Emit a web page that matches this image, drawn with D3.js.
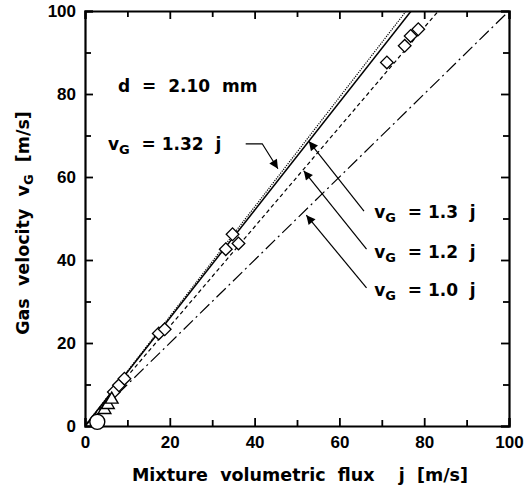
<!DOCTYPE html>
<html>
<head>
<meta charset="utf-8">
<script src="https://cdn.jsdelivr.net/npm/d3@7"></script>
<style>
  body { margin: 0; background: #fff; }
  svg { font-family: "DejaVu Sans", "Liberation Sans", Arial, sans-serif; font-weight: bold; }
  text { white-space: pre; }
</style>
</head>
<body>
<div id="chart"></div>
<script>
(function () {

    // reference lines v_G = k j
    const fitSlopes = [1.32, 1.3, 1.2, 1.0]
    const fitDash = ["1.2,1.2", null, "4,3", "13,4,2,4"]

    // measured points (j, v_G)
    const diamonds = [
        [6.8, 8.2], [8.0, 9.8], [9.3, 11.4], [17.4, 22.3], [18.8, 23.3],
        [33.2, 42.6], [34.8, 46.2], [36.2, 44.0],
        [71.2, 87.6], [75.4, 91.6], [76.8, 94.0], [78.6, 95.6]
    ]
    const triangles = [[4.6, 3.9], [5.4, 5.1], [6.3, 6.4]]
    const circles = [[2.9, 1.0]]

    // text annotations
    const labels = [
        { j: 7.8, v: 80.6, pre: "d  =  2.10  mm" },
        { j: 5.4, v: 66.5, pre: "v", sub: "G", post: "  = 1.32  j" },
        { j: 68.2, v: 50.1, pre: "v", sub: "G", post: "  = 1.3  j" },
        { j: 68.2, v: 40.5, pre: "v", sub: "G", post: "  = 1.2  j" },
        { j: 68.2, v: 31.4, pre: "v", sub: "G", post: "  = 1.0  j" }
    ]
    // arrows: list of points, last one is the head
    const arrows = [
        [[37.9, 68.0], [41.8, 68.0], [45.5, 62.0]],
        [[65.8, 51.8], [52.8, 68.6]],
        [[66.4, 42.6], [51.6, 61.5]],
        [[66.4, 33.3], [52.2, 50.8]]
    ]

    const axisTicks = [0, 20, 40, 60, 80, 100]

    const width = 529, height = 494
    const svg = d3.select("#chart").append("svg")
        .attr("width", width).attr("height", height)

    const x = d3.scaleLinear().domain([0, 100]).range([85, 509])
    const y = d3.scaleLinear().domain([0, 100]).range([426, 11])

    svg.append("defs").append("clipPath").attr("id", "plot")
        .append("rect").attr("x", 85).attr("y", 11).attr("width", 424).attr("height", 415)

    svg.append("defs").append("marker")
        .attr("id", "head").attr("viewBox", "0 0 10 10")
        .attr("refX", 10).attr("refY", 5)
        .attr("markerWidth", 14).attr("markerHeight", 9)
        .attr("markerUnits", "userSpaceOnUse")
        .attr("orient", "auto")
        .append("path").attr("d", "M0,0L10,5L0,10Z").attr("fill", "#000")

    // fit lines
    svg.append("g").attr("clip-path", "url(#plot)")
        .selectAll("line").data(fitSlopes).enter().append("line")
        .attr("x1", x(0)).attr("y1", y(0))
        .attr("x2", k => x(Math.min(100, 100 / k)))
        .attr("y2", k => y(Math.min(100, 100 / k) * k))
        .attr("stroke", "#000")
        .attr("stroke-width", (k, i) => i == 1 ? 1.5 : 1.2)
        .attr("stroke-dasharray", (k, i) => fitDash[i])

    // axes with inward ticks
    const minor = d3.range(10, 100, 20)
    const drawAxis = (axisFn, tx, ty, pad) => {
        const scale = axisFn === d3.axisLeft || axisFn === d3.axisRight ? y : x
        const g = svg.append("g").attr("transform", `translate(${tx},${ty})`)
        g.call(axisFn(scale)
            .tickValues(axisTicks).tickSize(-8).tickPadding(pad || 0)
            .tickFormat(pad ? d3.format("d") : ""))
        g.append("g").call(axisFn(scale)
            .tickValues(minor).tickSize(-6).tickFormat(""))
        g.selectAll("path").attr("stroke-width", 2.2)
        g.selectAll("line").attr("stroke-width", 1.8)
        g.selectAll("text").attr("font-size", 17).attr("font-family", null).attr("fill", "#000")
        g.selectAll(".domain").filter((d, i, n) => n[i].parentNode !== g.node()).remove()
        return g
    }
    drawAxis(d3.axisBottom, 0, 426, 10)
    drawAxis(d3.axisLeft, 85, 0, 9)
    drawAxis(d3.axisTop, 0, 11, 0)
    drawAxis(d3.axisRight, 509, 0, 0)

    // markers
    const sq = d3.symbol().type(d3.symbolSquare).size(80)
    svg.append("g").selectAll("path").data(diamonds).enter().append("path")
        .attr("d", sq)
        .attr("transform", d => `translate(${x(d[0])},${y(d[1])}) rotate(45)`)
        .attr("fill", "#fff").attr("stroke", "#000").attr("stroke-width", 1.3)

    const tri = d3.symbol().type(d3.symbolTriangle).size(70)
    svg.append("g").selectAll("path").data(triangles).enter().append("path")
        .attr("d", tri)
        .attr("transform", d => `translate(${x(d[0])},${y(d[1])})`)
        .attr("fill", "#fff").attr("stroke", "#000").attr("stroke-width", 1.4)

    svg.append("g").selectAll("circle").data(circles).enter().append("circle")
        .attr("cx", d => x(d[0])).attr("cy", d => y(d[1])).attr("r", 7.5)
        .attr("fill", "#fff").attr("stroke", "#000").attr("stroke-width", 1.4)

    // annotations
    const t = svg.append("g").selectAll("text").data(labels).enter().append("text")
        .attr("x", d => x(d.j)).attr("y", d => y(d.v))
        .attr("font-size", 17)
    t.append("tspan").text(d => d.pre)
    t.filter(d => d.sub).append("tspan").attr("font-size", 13).attr("dy", 4).text(d => d.sub)
    t.filter(d => d.post).append("tspan").attr("dy", -4).text(d => d.post)

    svg.append("g").selectAll("path").data(arrows).enter().append("path")
        .attr("d", d => d3.line().x(p => x(p[0])).y(p => y(p[1]))(d))
        .attr("fill", "none").attr("stroke", "#000").attr("stroke-width", 1.2)
        .attr("marker-end", "url(#head)")

    // axis titles
    svg.append("text")
        .attr("x", 300).attr("y", 481).attr("text-anchor", "middle")
        .attr("font-size", 17.5)
        .text("Mixture  volumetric  flux    j  [m/s]")

    const yt = svg.append("text")
        .attr("transform", "translate(29,223) rotate(-90)")
        .attr("text-anchor", "middle").attr("font-size", 17.5)
    yt.append("tspan").text("Gas  velocity  v")
    yt.append("tspan").attr("font-size", 13).attr("dy", 4).text("G")
    yt.append("tspan").attr("dy", -4).text("  [m/s]")
})()
</script>
</body>
</html>
